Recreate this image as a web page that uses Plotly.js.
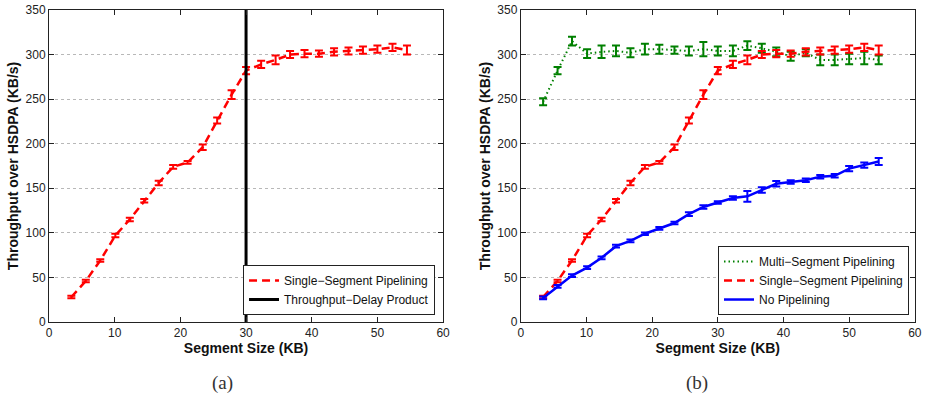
<!DOCTYPE html>
<html>
<head>
<meta charset="utf-8">
<script src="https://cdn.plot.ly/plotly-3.0.1.min.js"></script>
<style>html,body{margin:0;padding:0;background:#fff;}#chart{width:925px;height:398px;}</style>
</head>
<body>
<div id="chart"></div>
<script>
// Segment sizes (KB)
const segmentSize = [3.4, 5.6, 7.8, 10.1, 12.3, 14.5, 16.7, 18.9, 21.1, 23.4, 25.6, 27.8, 30.0, 32.3, 34.5, 36.7, 38.9, 41.1, 43.4, 45.6, 47.8, 50.0, 52.3, 54.5];
// Single-Segment Pipelining throughput (KB/s) and error
const singleSeg = [28, 46, 69, 97, 115, 136, 156, 174, 179, 196, 226, 255, 282, 289, 294, 300, 301, 301, 303, 304, 305, 306, 308, 305];
const singleErr = [1.5, 1.5, 1.5, 2, 2, 2, 2.5, 2, 1.5, 3, 3.5, 5, 4, 4, 5, 4, 4, 3.5, 4, 4, 4, 4, 4, 5];
// Multi-Segment Pipelining
const multiSeg = [247, 282, 315, 301, 303, 304, 302, 306, 306, 305, 304, 306, 304, 304, 310, 307, 303, 298, 302, 294, 294, 295, 296, 294];
const multiErr = [4, 4, 5, 5, 7, 6, 5, 6, 5, 4, 5, 8, 5, 6, 5, 5, 5, 5, 4, 6, 6, 6, 7, 5];
// No Pipelining
const noPipe = [27, 40, 52, 61, 72, 85, 91, 99, 105, 111, 121, 129, 134, 139, 141, 148, 155, 157, 159, 163, 164, 172, 176, 180];
const noPipeErr = [1.5, 1.5, 1.5, 1.5, 1.5, 1.5, 1.5, 1.5, 1.5, 1.5, 2, 2, 1.5, 2, 6, 3, 3, 2, 2, 2, 2, 3, 3, 4];
// Throughput-delay product marker
const tdpX = [30, 30];
const tdpY = [0, 350];

const xTicks = [0, 10, 20, 30, 40, 50, 60];
const yTicks = [0, 50, 100, 150, 200, 250, 300, 350];

const RED = '#ff0000', GREEN = '#008000', BLUE = '#0000ff';
const M = '\u2212';

const traces = [
  {x: segmentSize, y: singleSeg, type: 'scatter', mode: 'lines', name: 'Single' + M + 'Segment Pipelining',
   line: {color: RED, width: 2.5, dash: '8px,5px'},
   error_y: {type: 'data', array: singleErr, visible: true, color: RED, thickness: 2, width: 4},
   xaxis: 'x', yaxis: 'y', legend: 'legend'},
  {x: tdpX, y: tdpY, type: 'scatter', mode: 'lines', name: 'Throughput' + M + 'Delay Product',
   line: {color: '#000', width: 3}, xaxis: 'x', yaxis: 'y', legend: 'legend'},
  {x: segmentSize, y: multiSeg, type: 'scatter', mode: 'lines', name: 'Multi' + M + 'Segment Pipelining',
   line: {color: GREEN, width: 2, dash: '1.5px,3px'},
   error_y: {type: 'data', array: multiErr, visible: true, color: GREEN, thickness: 2, width: 4},
   xaxis: 'x2', yaxis: 'y2', legend: 'legend2'},
  {x: segmentSize, y: singleSeg, type: 'scatter', mode: 'lines', name: 'Single' + M + 'Segment Pipelining',
   line: {color: RED, width: 2.5, dash: '8px,5px'},
   error_y: {type: 'data', array: singleErr, visible: true, color: RED, thickness: 2, width: 4},
   xaxis: 'x2', yaxis: 'y2', legend: 'legend2'},
  {x: segmentSize, y: noPipe, type: 'scatter', mode: 'lines', name: 'No Pipelining',
   line: {color: BLUE, width: 2.5},
   error_y: {type: 'data', array: noPipeErr, visible: true, color: BLUE, thickness: 2, width: 4},
   xaxis: 'x2', yaxis: 'y2', legend: 'legend2'}
];

const FONT = 'Liberation Sans, Arial, sans-serif';
function xAxis(domain, anchor) {
  return {domain: domain, anchor: anchor, range: [0, 60], tickvals: xTicks, ticks: 'inside', ticklen: 5,
    tickcolor: '#222', showline: true, mirror: 'ticks', linecolor: '#222', linewidth: 1,
    showgrid: false, zeroline: false, automargin: false,
    tickfont: {family: FONT, size: 12, color: '#222'},
    title: {text: 'Segment Size (KB)', standoff: 3, font: {family: FONT, size: 14, color: '#111', weight: 'bold'}}};
}
function yAxis(domain, anchor) {
  return {domain: domain, anchor: anchor, range: [0, 350], tickvals: yTicks, ticks: 'inside', ticklen: 5,
    tickcolor: '#222', showline: true, mirror: 'ticks', linecolor: '#222', linewidth: 1,
    showgrid: true, gridcolor: '#b8b8b8', griddash: 'dot', gridwidth: 1, zeroline: false, automargin: false,
    tickfont: {family: FONT, size: 12, color: '#222'},
    title: {text: 'Throughput over HSDPA (KB/s)', standoff: 3, font: {family: FONT, size: 14, color: '#111', weight: 'bold'}}};
}
const legendBase = {font: {family: FONT, size: 12, color: '#111'}, bgcolor: '#fff', bordercolor: '#222', borderwidth: 1,
  xanchor: 'right', yanchor: 'bottom', tracegroupgap: 0, itemwidth: 30, xref: 'paper', yref: 'paper'};

const layout = {
  width: 925, height: 398,
  margin: {l: 0, r: 0, t: 0, b: 0},
  paper_bgcolor: '#fff', plot_bgcolor: '#fff',
  showlegend: true,
  xaxis: xAxis([0.053, 0.479], 'y'),
  yaxis: yAxis([0.191, 0.975], 'x'),
  xaxis2: xAxis([0.563, 0.989], 'y2'),
  yaxis2: yAxis([0.191, 0.975], 'x2'),
  legend: Object.assign({}, legendBase, {x: 0.4703, y: 0.2085}),
  legend2: Object.assign({}, legendBase, {x: 0.9827, y: 0.2085}),
  annotations: [
    {text: '(a)', xref: 'paper', yref: 'paper', x: 0.24, y: 0.038, showarrow: false, xanchor: 'center', yanchor: 'middle',
     font: {family: 'Liberation Serif, DejaVu Serif, serif', size: 19, color: '#333'}},
    {text: '(b)', xref: 'paper', yref: 'paper', x: 0.7535, y: 0.038, showarrow: false, xanchor: 'center', yanchor: 'middle',
     font: {family: 'Liberation Serif, DejaVu Serif, serif', size: 19, color: '#333'}}
  ]
};

Plotly.newPlot('chart', traces, layout, {staticPlot: true, displayModeBar: false});
</script>
</body>
</html>
